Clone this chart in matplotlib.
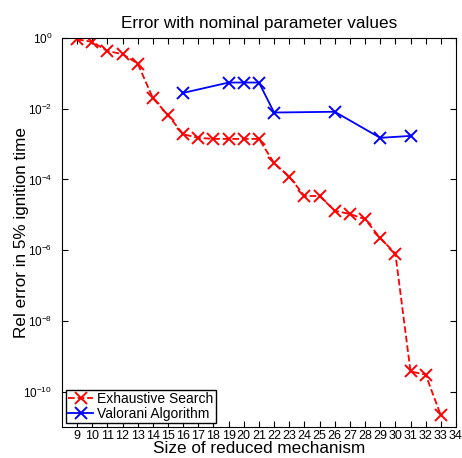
import numpy as np
import matplotlib
matplotlib.use('Agg')
import matplotlib.pyplot as plt

# data
exh_size = [9, 10, 11, 12, 13, 14, 15, 16, 17, 18, 19, 20, 21, 22, 23, 24, 25,
            26, 27, 28, 29, 30, 31, 32, 33]
exh_err = [0.92, 0.78, 0.43, 0.35, 0.19, 0.02, 0.0066, 0.0019, 0.0015, 0.0014,
           0.0014, 0.0014, 0.0014, 2.9e-4, 1.2e-4, 3.4e-5, 3.4e-5, 1.3e-5,
           1.05e-5, 7.5e-6, 2.2e-6, 8e-7, 3.7e-10, 3.0e-10, 2.1e-11]

val_size = [16, 19, 20, 21, 22, 26, 29, 31]
val_err = [0.028, 0.055, 0.055, 0.055, 0.0078, 0.0082, 0.0015, 0.0017]

xticks = list(range(9, 35))

plt.rcParams['font.family'] = ['Liberation Sans', 'DejaVu Sans']

fig = plt.figure(figsize=(4.62, 4.58), dpi=100)
ax = fig.add_axes([0.134, 0.068, 0.853, 0.849])

ax.semilogy(exh_size, exh_err, 'r--x', markersize=8.5, markeredgewidth=1.4,
            linewidth=1.3, label='Exhaustive Search')
ax.semilogy(val_size, val_err, 'b-x', markersize=8.5, markeredgewidth=1.4,
            linewidth=1.3, label='Valorani Algorithm')

ax.set_xlim(8, 34)
ax.set_ylim(1e-11, 1)
ax.set_xticks(xticks)
ax.set_xticklabels([str(t) for t in xticks])
ax.set_yticks([1e0, 1e-2, 1e-4, 1e-6, 1e-8, 1e-10])
ax.yaxis.set_minor_locator(matplotlib.ticker.NullLocator())
ax.tick_params(direction='in', top=True, right=True, length=4)
ax.tick_params(axis='x', pad=2.5, labelsize=9)
ax.tick_params(axis='y', pad=7, labelsize=8.5)

ax.set_title('Error with nominal parameter values', fontsize=12.3, pad=7)
ax.set_xlabel('Size of reduced mechanism', fontsize=12.3, labelpad=-1)
ax.set_ylabel('Rel error in 5% ignition time', fontsize=12.3, labelpad=-4)

leg = ax.legend(loc='lower left', fontsize=10, fancybox=False, framealpha=1,
                edgecolor='black', borderaxespad=0.3, handlelength=1.8,
                borderpad=0.15, labelspacing=0.05, handletextpad=0.3)
leg.get_frame().set_linewidth(1.0)

plt.savefig('out.png', dpi=100)
